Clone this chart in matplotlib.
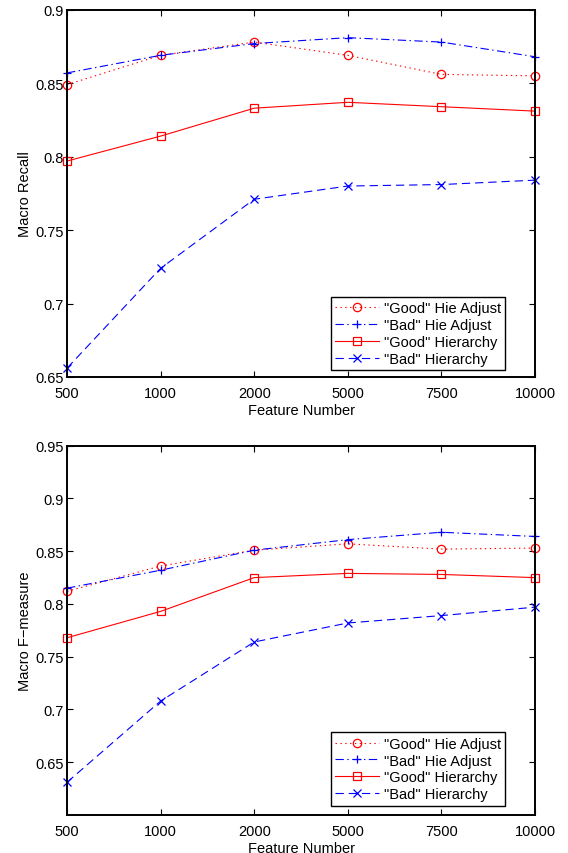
import numpy as np
import matplotlib
matplotlib.use("Agg")
import matplotlib.pyplot as plt

plt.rcParams['font.family'] = ['Liberation Sans', 'DejaVu Sans']
plt.rcParams['lines.scale_dashes'] = False

features = ["500", "1000", "2000", "5000", "7500", "10000"]
labels = ['"Good" Hie Adjust', '"Bad" Hie Adjust', '"Good" Hierarchy', '"Bad" Hierarchy']

# macro recall
recall_good_adj = [0.849, 0.869, 0.878, 0.869, 0.856, 0.855]
recall_bad_adj = [0.857, 0.869, 0.877, 0.881, 0.878, 0.868]
recall_good_hier = [0.797, 0.814, 0.833, 0.837, 0.834, 0.831]
recall_bad_hier = [0.656, 0.724, 0.771, 0.780, 0.781, 0.784]

# macro f-measure
f_good_adj = [0.812, 0.836, 0.851, 0.857, 0.852, 0.853]
f_bad_adj = [0.815, 0.832, 0.851, 0.861, 0.868, 0.864]
f_good_hier = [0.768, 0.793, 0.825, 0.829, 0.828, 0.825]
f_bad_hier = [0.631, 0.708, 0.764, 0.782, 0.789, 0.797]

styles = [
    dict(color='red', linestyle=(0, (1, 2.5)), marker='o'),
    dict(color='blue', linestyle=(0, (6, 2.5, 1, 2.5)), marker='+'),
    dict(color='red', linestyle='-', marker='s'),
    dict(color='blue', linestyle=(0, (6, 3.5)), marker='x'),
]

fig = plt.figure(figsize=(5.68, 8.54), dpi=100)
ax1 = fig.add_axes([0.118, 0.5574, 0.824, 0.430])
ax2 = fig.add_axes([0.118, 0.0445, 0.824, 0.4324])

x = np.arange(len(features))
fs = 10.5


def draw(ax, series, ylim, yticks, ylabel, legend_y):
    for vals, st, lab in zip(series, styles, labels):
        ax.plot(x, vals, label=lab, linewidth=0.8, markersize=6,
                markerfacecolor='none', markeredgewidth=0.9, clip_on=False, **st)
    ax.set_xlim(0, len(features) - 1)
    ax.set_ylim(*ylim)
    ax.set_xticks(x)
    ax.set_xticklabels(features)
    ax.set_yticks(yticks)
    ax.set_yticklabels([("%g" % t) for t in yticks])
    ax.set_xlabel("Feature Number", fontsize=fs, labelpad=2)
    ax.set_ylabel(ylabel, fontsize=fs, labelpad=3)
    ax.tick_params(direction='in', length=4, width=0.8, top=True, right=True,
                   labelsize=fs)
    ax.tick_params(axis='x', pad=6.3)
    ax.tick_params(axis='y', pad=2)
    for sp in ax.spines.values():
        sp.set_linewidth(1.4)
    leg = ax.legend(loc='lower right', bbox_to_anchor=(0.936, legend_y),
                    fontsize=fs, fancybox=False, framealpha=1, edgecolor='black',
                    handlelength=3.0, borderpad=0.3, labelspacing=0.2,
                    handletextpad=0.3, borderaxespad=0, numpoints=1)
    leg.get_frame().set_linewidth(1.0)


draw(ax1, [recall_good_adj, recall_bad_adj, recall_good_hier, recall_bad_hier],
     (0.65, 0.9), [0.65, 0.7, 0.75, 0.8, 0.85, 0.9], "Macro Recall", 0.019)
draw(ax2, [f_good_adj, f_bad_adj, f_good_hier, f_bad_hier],
     (0.6, 0.95), [0.65, 0.7, 0.75, 0.8, 0.85, 0.9, 0.95], "Macro F\u2212measure", 0.025)

fig.savefig("out.png", dpi=100)
